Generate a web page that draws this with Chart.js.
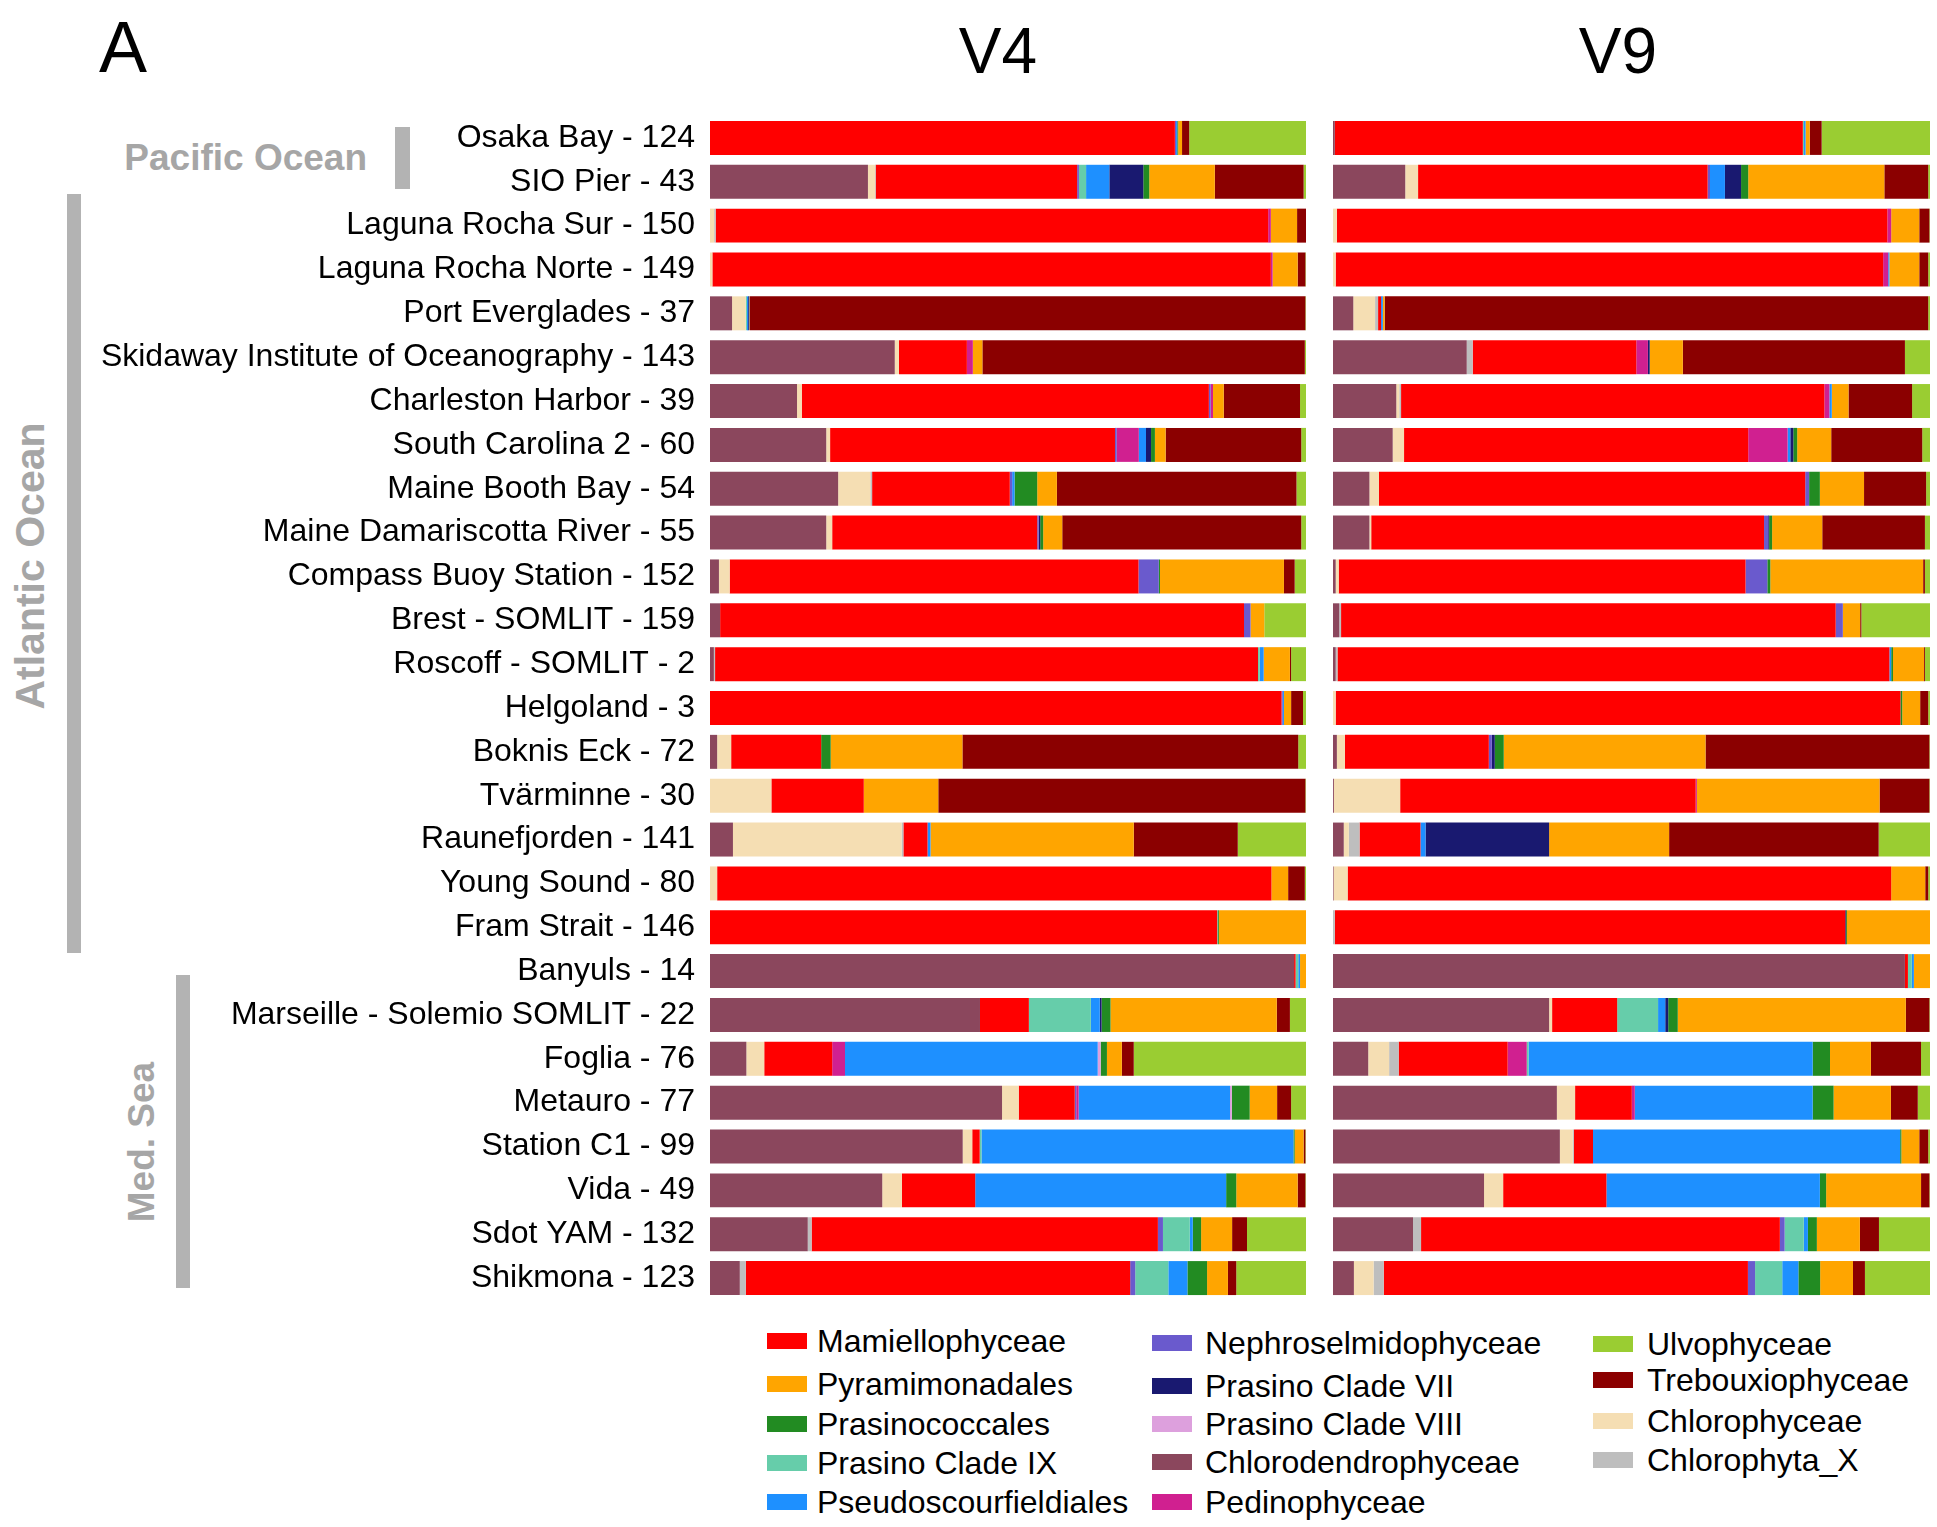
<!DOCTYPE html>
<html>
<head>
<meta charset="utf-8">
<script src="https://cdn.jsdelivr.net/npm/chart.js@4.4.0/dist/chart.umd.min.js"></script>
<style>
  body { margin: 0; background: #fff; }
  #page { position: relative; width: 1937px; height: 1527px; overflow: hidden; background: #fff;
          font-family: 'Liberation Sans', Arial, sans-serif; color: #000; }
  .abs { position: absolute; white-space: nowrap; line-height: 1; }
  .grp { position: absolute; white-space: nowrap; line-height: 1; font-weight: bold; color: #a6a6a6; font-size: 37px; }
  .gbar { position: absolute; background: #b3b3b3; }
  canvas { position: absolute; top: 0; }
  .leg { position: absolute; display: flex; align-items: center; height: 40px; font-size: 32px; line-height: 1; white-space: nowrap; }
  .leg span.box { display: inline-block; width: 40px; height: 16px; }
</style>
</head>
<body>
<div id="page">
  <div class="abs" style="left:99px; top:11px; font-size:72px;">A</div>
  <div class="abs" style="left:848px; width:300px; text-align:center; top:19px; font-size:64px;">V4</div>
  <div class="abs" style="left:1468px; width:300px; text-align:center; top:19px; font-size:64px;">V9</div>

  <div class="grp" style="right:1570px; top:139px;">Pacific Ocean</div>
  <div class="gbar" style="left:395px; top:127px; width:15px; height:62px;"></div>
  <div class="grp" style="left:30px; top:566px; font-size:41px; transform:translate(-50%,-50%) rotate(-90deg);">Atlantic Ocean</div>
  <div class="gbar" style="left:67px; top:194px; width:14px; height:759px;"></div>
  <div class="grp" style="left:141px; top:1142px; transform:translate(-50%,-50%) rotate(-90deg);">Med. Sea</div>
  <div class="gbar" style="left:176px; top:975px; width:14px; height:313px;"></div>

  <canvas id="c4" width="1306" height="1300" style="left:0px;"></canvas>
  <canvas id="c9" width="604" height="1300" style="left:1333px;"></canvas>
  <div id="legend"></div>
</div>
<script>
const sites = ['Osaka Bay - 124', 'SIO Pier - 43', 'Laguna Rocha Sur - 150', 'Laguna Rocha Norte - 149',
  'Port Everglades - 37', 'Skidaway Institute of Oceanography - 143', 'Charleston Harbor - 39',
  'South Carolina 2 - 60', 'Maine Booth Bay - 54', 'Maine Damariscotta River - 55',
  'Compass Buoy Station - 152', 'Brest - SOMLIT - 159', 'Roscoff - SOMLIT - 2', 'Helgoland - 3',
  'Boknis Eck - 72', 'Tvärminne - 30', 'Raunefjorden - 141', 'Young Sound - 80', 'Fram Strait - 146',
  'Banyuls - 14', 'Marseille - Solemio SOMLIT - 22', 'Foglia - 76', 'Metauro - 77', 'Station C1 - 99',
  'Vida - 49', 'Sdot YAM - 132', 'Shikmona - 123'];

// stacking order, left to right
const series = ['Chlorodendrophyceae', 'Chlorophyceae', 'Chlorophyta_X', 'Mamiellophyceae',
  'Nephroselmidophyceae', 'Pedinophyceae', 'Prasino Clade IX', 'Pseudoscourfieldiales',
  'Prasino Clade VII', 'Prasino Clade VIII', 'Prasinococcales', 'Pyramimonadales',
  'Trebouxiophyceae', 'Ulvophyceae'];
const colors = ['#8B475D', '#F5DEB3', '#BEBEBE', '#FF0000', '#6A5ACD', '#D02090', '#66CDAA', '#1E90FF',
  '#191970', '#DDA0DD', '#228B22', '#FFA500', '#8B0000', '#9ACD32'];

// V4 relative abundance (%)
const v4Chlorodendro = [0, 26.5, 0, 0, 3.7, 31.0, 14.6, 19.5, 21.5, 19.5, 1.5, 1.7, 0.65, 0, 1.2, 0, 3.85, 0, 0, 98.0, 45.3, 6.1, 49.0, 42.4, 28.9, 16.4, 5.0];
const v4Chlorophyceae = [0, 1.2, 0.7, 0.4, 2.3, 0.7, 0.8, 0.65, 5.4, 1.0, 1.8, 0, 0, 0, 2.35, 10.3, 28.3, 1.2, 0, 0, 0, 3.0, 2.8, 1.6, 3.3, 0, 0];
const v4ChlorophytaX = [0, 0.1, 0.25, 0, 0, 0, 0, 0, 0.3, 0, 0, 0, 0.2, 0, 0, 0, 0.3, 0, 0, 0, 0, 0, 0, 0, 0, 0.65, 1.0];
const v4Mamiello = [78.0, 33.8, 92.7, 93.7, 0, 11.4, 68.3, 47.8, 23.1, 34.4, 68.6, 87.9, 91.1, 95.9, 15.1, 15.5, 4.05, 93.0, 85.1, 0.25, 8.2, 11.4, 9.4, 1.25, 12.3, 58.1, 64.5];
const v4Nephro = [0.2, 0.3, 0, 0, 0, 0, 0.3, 0.3, 0.4, 0.25, 3.4, 1.1, 0, 0.2, 0, 0, 0, 0, 0, 0, 0, 0, 0.25, 0, 0, 0.85, 0.85];
const v4Pedino = [0, 0, 0.45, 0.3, 0, 1.0, 0.4, 3.7, 0, 0, 0, 0, 0, 0, 0, 0, 0, 0, 0, 0, 0, 2.15, 0.4, 0, 0, 0, 0];
const v4PrasinoIX = [0, 1.2, 0, 0, 0.2, 0, 0, 0, 0, 0, 0, 0, 0.3, 0, 0, 0, 0, 0, 0.15, 0.45, 10.4, 0, 0, 0.3, 0, 4.5, 5.55];
const v4Pseudo = [0.2, 3.9, 0, 0, 0.2, 0, 0, 1.2, 0.4, 0, 0, 0, 0.65, 0.2, 0, 0, 0.5, 0, 0, 0.3, 1.5, 42.4, 25.4, 52.35, 42.1, 0.5, 3.2];
const v4PrasinoVII = [0, 5.7, 0, 0, 0.2, 0, 0, 0.85, 0, 0.25, 0, 0, 0, 0, 0, 0, 0, 0, 0, 0, 0.3, 0, 0, 0, 0, 0, 0];
const v4PrasinoVIII = [0, 0, 0, 0, 0, 0, 0, 0, 0, 0, 0, 0, 0, 0, 0, 0, 0, 0, 0, 0, 0, 0.5, 0.3, 0, 0, 0, 0];
const v4Prasinococc = [0.15, 1.0, 0, 0, 0, 0, 0, 0.65, 3.8, 0.5, 0.2, 0, 0, 0, 1.6, 0, 0, 0, 0.15, 0, 1.5, 1.05, 3.0, 0.2, 1.7, 1.4, 3.3];
const v4Pyrami = [0.65, 11.0, 4.4, 4.2, 0.1, 1.6, 1.8, 1.8, 3.3, 3.2, 20.8, 2.3, 4.4, 1.2, 22.1, 12.5, 34.1, 2.8, 14.6, 1.0, 27.9, 2.5, 4.6, 1.5, 10.3, 5.2, 3.5];
const v4Trebouxio = [1.2, 14.9, 1.5, 1.3, 93.2, 54.1, 12.8, 22.75, 40.2, 40.1, 1.8, 0, 0.2, 2.0, 56.35, 61.6, 17.45, 2.8, 0, 0, 2.2, 2.0, 2.35, 0.3, 1.3, 2.5, 1.4];
const v4Ulvo = [19.6, 0.5, 0.1, 0.1, 0.1, 0.2, 1.0, 0.8, 1.6, 0.8, 1.9, 7.0, 2.5, 0.5, 1.3, 0.1, 11.45, 0.2, 0, 0, 2.7, 28.9, 2.5, 0.1, 0.1, 9.9, 11.7];

// V9 relative abundance (%)
const v9Chlorodendro = [0.3, 12.1, 0, 0, 3.4, 22.4, 10.6, 10.0, 6.1, 6.1, 0.45, 1.05, 0.45, 0, 0.65, 0.15, 1.8, 0.1, 0, 95.8, 36.2, 5.9, 37.5, 38.0, 25.3, 13.4, 3.5];
const v9Chlorophyceae = [0, 2.15, 0.65, 0.45, 3.65, 0, 0.5, 1.9, 1.6, 0.3, 0.5, 0, 0, 0.45, 1.35, 11.1, 0.85, 2.35, 0, 0, 0.5, 3.5, 3.05, 2.15, 3.2, 0, 3.3];
const v9ChlorophytaX = [0, 0, 0, 0, 0.5, 1.0, 0.3, 0, 0, 0, 0, 0.3, 0.3, 0, 0, 0, 1.8, 0, 0.3, 0, 0, 1.6, 0, 0.2, 0, 1.35, 1.7];
const v9Mamiello = [78.4, 48.5, 92.2, 91.7, 0.5, 27.4, 70.9, 57.65, 71.4, 65.8, 68.15, 82.85, 92.45, 94.6, 24.1, 49.5, 10.2, 91.05, 85.5, 0.5, 10.9, 18.25, 9.5, 3.2, 17.3, 60.1, 61.0];
const v9Nephro = [0, 0.4, 0, 0, 0, 0, 0, 0, 0.65, 0.7, 3.65, 1.2, 0, 0, 0.5, 0, 0, 0, 0, 0, 0, 0, 0, 0, 0, 0.8, 1.2];
const v9Pedino = [0, 0, 0.65, 0.85, 0, 1.95, 0.85, 6.6, 0, 0, 0, 0, 0, 0, 0, 0.2, 0, 0, 0, 0, 0, 3.2, 0.5, 0, 0, 0, 0];
const v9PrasinoIX = [0.2, 0, 0, 0, 0, 0, 0, 0, 0, 0, 0, 0, 0, 0, 0, 0, 0, 0, 0, 0.65, 6.85, 0.3, 0, 0, 0, 3.2, 4.55];
const v9Pseudo = [0.25, 2.5, 0, 0.2, 0.3, 0, 0.4, 0.45, 0, 0, 0, 0, 0.3, 0, 0, 0, 0.85, 0, 0, 0.35, 1.2, 47.6, 29.8, 51.45, 35.75, 0.7, 2.7];
const v9PrasinoVII = [0, 2.7, 0, 0, 0, 0.3, 0, 0.5, 0, 0.15, 0, 0, 0, 0, 0.5, 0, 20.7, 0, 0.15, 0, 0.5, 0, 0, 0, 0, 0, 0];
const v9PrasinoVIII = [0, 0, 0, 0, 0, 0, 0, 0, 0, 0, 0, 0, 0, 0, 0, 0, 0, 0, 0, 0, 0, 0, 0, 0, 0, 0, 0];
const v9Prasinococc = [0, 1.2, 0, 0, 0, 0, 0, 0.65, 1.8, 0.5, 0.5, 0, 0.3, 0.3, 1.5, 0, 0, 0, 0.15, 0, 1.6, 2.9, 3.5, 0.2, 1.05, 1.5, 3.65];
const v9Pyrami = [0.7, 22.8, 4.7, 5.0, 0.3, 5.55, 2.8, 5.7, 7.4, 8.4, 25.6, 2.9, 5.2, 3.0, 33.8, 30.6, 20.1, 5.7, 13.9, 2.7, 38.2, 6.85, 9.6, 3.0, 15.9, 7.2, 5.5];
const v9Trebouxio = [2.0, 7.35, 1.7, 1.5, 91.05, 37.2, 10.65, 15.25, 10.4, 17.2, 0.3, 0.2, 0.15, 1.35, 37.5, 8.35, 35.1, 0.5, 0, 0, 3.95, 8.4, 4.5, 1.5, 1.4, 3.2, 2.0];
const v9Ulvo = [18.15, 0.3, 0.1, 0.3, 0.3, 4.2, 3.0, 1.3, 0.65, 0.85, 0.85, 11.5, 0.85, 0.3, 0.1, 0.1, 8.6, 0.3, 0, 0, 0.1, 1.5, 2.05, 0.3, 0.1, 8.55, 10.9];

const v4Values = [v4Chlorodendro, v4Chlorophyceae, v4ChlorophytaX, v4Mamiello, v4Nephro, v4Pedino, v4PrasinoIX,
  v4Pseudo, v4PrasinoVII, v4PrasinoVIII, v4Prasinococc, v4Pyrami, v4Trebouxio, v4Ulvo];
const v9Values = [v9Chlorodendro, v9Chlorophyceae, v9ChlorophytaX, v9Mamiello, v9Nephro, v9Pedino, v9PrasinoIX,
  v9Pseudo, v9PrasinoVII, v9PrasinoVIII, v9Prasinococc, v9Pyrami, v9Trebouxio, v9Ulvo];

// legend columns as in the figure
const legendCol1 = ['Mamiellophyceae', 'Pyramimonadales', 'Prasinococcales', 'Prasino Clade IX', 'Pseudoscourfieldiales'];
const legendCol2 = ['Nephroselmidophyceae', 'Prasino Clade VII', 'Prasino Clade VIII', 'Chlorodendrophyceae', 'Pedinophyceae'];
const legendCol3 = ['Ulvophyceae', 'Trebouxiophyceae', 'Chlorophyceae', 'Chlorophyta_X'];

function makeChart(id, values, showLabels, padRight) {
  const ctx = document.getElementById(id).getContext('2d');
  const yAxis = {
    stacked: true,
    display: showLabels,
    grid: { display: false, drawTicks: false },
    border: { display: false },
    ticks: {
      autoSkip: false,
      color: '#000',
      padding: 15,
      font: { family: "'Liberation Sans', Arial, sans-serif", size: 32 }
    }
  };
  if (showLabels) {
    // fixed label column; drop the label overhang so rows fill the plot height
    yAxis.afterFit = (scale) => {
      scale.width = 710;
      scale.paddingTop = 0;
      scale.paddingBottom = 0;
    };
  }
  return new Chart(ctx, {
    type: 'bar',
    data: {
      labels: sites,
      datasets: series.map((s, i) => ({
        label: s,
        data: values[i],
        backgroundColor: colors[i],
        borderWidth: 0,
        barPercentage: 0.775,
        categoryPercentage: 1.0,
        grouped: false
      }))
    },
    options: {
      indexAxis: 'y',
      responsive: false,
      animation: false,
      events: [],
      layout: { padding: { top: 116, bottom: 0, left: 0, right: padRight } },
      plugins: { legend: { display: false }, tooltip: { enabled: false } },
      scales: {
        x: { stacked: true, min: 0, max: 100, display: false },
        y: yAxis
      }
    }
  });
}

makeChart('c4', v4Values, true, 0);
makeChart('c9', v9Values, false, 7);

// legend
const legend = document.getElementById('legend');
const cols = [
  { items: legendCol1, left: 767, gap: 10, ys: [1341, 1384, 1424, 1463, 1502] },
  { items: legendCol2, left: 1152, gap: 13, ys: [1343, 1386, 1424, 1462, 1502] },
  { items: legendCol3, left: 1593, gap: 14, ys: [1344, 1380, 1421, 1460] }
];
cols.forEach(col => {
  col.items.forEach((name, j) => {
    const d = document.createElement('div');
    d.className = 'leg';
    d.style.left = col.left + 'px';
    d.style.top = (col.ys[j] - 20) + 'px';
    const b = document.createElement('span');
    b.className = 'box';
    b.style.background = colors[series.indexOf(name)];
    b.style.marginRight = col.gap + 'px';
    d.appendChild(b);
    d.appendChild(document.createTextNode(name));
    legend.appendChild(d);
  });
});
</script>
</body>
</html>
